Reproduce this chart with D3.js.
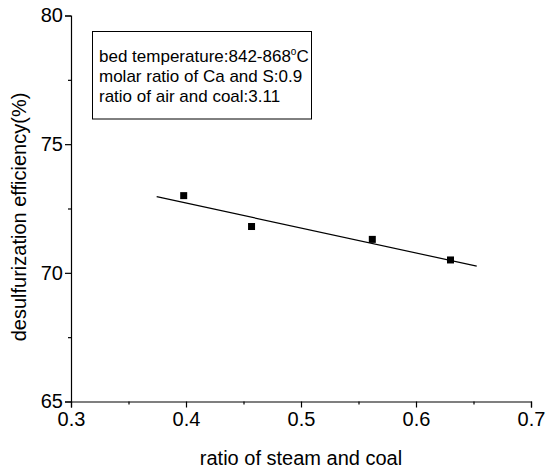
<!DOCTYPE html>
<html><head><meta charset="utf-8">
<script src="https://cdn.jsdelivr.net/npm/d3@7"></script>
<style>body{margin:0;background:#fff}svg{display:block}text{font-family:"Liberation Sans",Arial,sans-serif;fill:#000}</style>
</head><body>
<svg id="c" width="547" height="473"></svg>
<script>
const steamRatio = [0.398, 0.457, 0.562, 0.630];
const efficiency = [73.0, 71.8, 71.3, 70.5];
const fitX = [0.3745, 0.6528];
const fitY = [72.96, 70.26];
const xTicks = [0.3, 0.4, 0.5, 0.6, 0.7];
const xMinor = [0.35, 0.45, 0.55, 0.65];
const yTicks = [65, 70, 75, 80];
const yMinor = [67.5, 72.5, 77.5];
const noteLines = ["bed temperature:842-868", "molar ratio of Ca and S:0.9", "ratio of air and coal:3.11"];

const svg = d3.select("#c");
const x = d3.scaleLinear().domain([0.3, 0.7]).range([71, 531]);
const y = d3.scaleLinear().domain([65, 80]).range([401.5, 15.5]);

const xa = svg.append("g").attr("transform", "translate(0,401.5)")
  .call(d3.axisBottom(x).tickValues(xTicks).tickSize(6).tickPadding(4).tickFormat(d3.format(".1f")));
xa.selectAll("text").attr("font-size", 20).attr("font-family", "Liberation Sans, Arial");
svg.append("g").attr("transform", "translate(0,401.5)")
  .call(d3.axisBottom(x).tickValues(xMinor).tickSize(3).tickFormat(""))
  .select(".domain").remove();

const ya = svg.append("g").attr("transform", "translate(71,0)")
  .call(d3.axisLeft(y).tickValues(yTicks).tickSize(6).tickPadding(2));
ya.selectAll("text").attr("font-size", 20).attr("font-family", "Liberation Sans, Arial");
svg.append("g").attr("transform", "translate(71,0)")
  .call(d3.axisLeft(y).tickValues(yMinor).tickSize(3).tickFormat(""))
  .select(".domain").remove();

svg.selectAll(".domain").attr("stroke-width", 1.2);
svg.selectAll(".tick line").attr("stroke-width", 1.2);

svg.append("text").attr("x", 301).attr("y", 465).attr("text-anchor", "middle")
  .attr("font-size", 20).text("ratio of steam and coal");
svg.append("text").attr("transform", "translate(26,217) rotate(-90)").attr("text-anchor", "middle")
  .attr("font-size", 20).text("desulfurization efficiency(%)");

// fit line
svg.append("line")
  .attr("x1", x(fitX[0])).attr("y1", y(fitY[0]))
  .attr("x2", x(fitX[1])).attr("y2", y(fitY[1]))
  .attr("stroke", "#000").attr("stroke-width", 1.2);

svg.selectAll("rect.pt").data(steamRatio).join("rect").attr("class", "pt")
  .attr("x", (d) => x(d) - 3.5).attr("y", (d, i) => y(efficiency[i]) - 3.5)
  .attr("width", 7).attr("height", 7).attr("fill", "#000");

// note box
svg.append("rect").attr("x", 92.5).attr("y", 31.5).attr("width", 219).attr("height", 87.5)
  .attr("fill", "none").attr("stroke", "#000").attr("stroke-width", 1);
const note = svg.append("g");
noteLines.forEach((t, i) => {
  const tx = note.append("text").attr("x", 99).attr("y", 62 + i * 20).attr("font-size", 17).text(t);
  if (i === 0) {
    tx.append("tspan").attr("font-size", 10).attr("dy", -7).text("o");
    tx.append("tspan").attr("dy", 7).text("C");
  }
});
</script>
</body></html>
